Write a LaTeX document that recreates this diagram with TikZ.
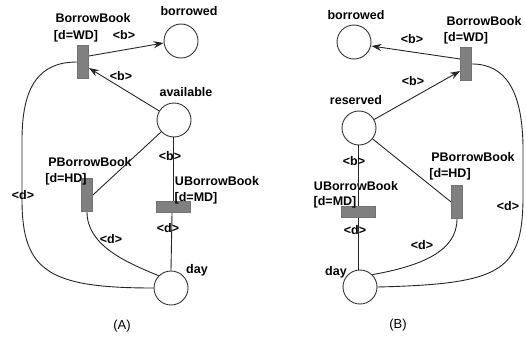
\documentclass[tikz,border=0pt]{standalone}
\usepackage{fontspec}
\setmainfont{Liberation Sans}
\usetikzlibrary{arrows.meta}
\begin{document}
\begin{tikzpicture}[x=1pt,y=-1pt,
  every node/.style={font=\fontsize{12.5}{15}\selectfont\bfseries, inner sep=0pt},
  place/.style={circle, draw=black!80, line width=0.9pt, fill=white, minimum size=34pt},
  vtrans/.style={rectangle, draw=black!55, line width=0.8pt, fill=black!50, minimum width=11pt, minimum height=33pt},
  htrans/.style={rectangle, draw=black!55, line width=0.8pt, fill=black!50, minimum width=34pt, minimum height=11pt},
  arc/.style={draw=black!85, line width=0.9pt},
  arr/.style={arc, -{Stealth[length=10pt,width=7pt]}},
  lbl/.style={anchor=center},
  captext/.style={anchor=center, font=\fontsize{13}{15}\selectfont}
]
\useasboundingbox (0,0) rectangle (526,337);

% ---------- net (A) ----------
\node[vtrans] (bbA) at (83,62) {};
\node[place]  (borA) at (181,41) {};
\node[place]  (avA) at (174,120) {};
\node[vtrans] (pbA) at (87,195) {};
\node[htrans] (ubA) at (173,207) {};
\node[place]  (dayA) at (171,288) {};

\node[lbl] (tbbA) at (93,18) {BorrowBook};
\node[lbl] (gbbA) at (76,36) {[d=WD]};
\node[lbl] (tborA) at (189,11) {borrowed};
\node[lbl] (tavA) at (186,92) {available};
\node[lbl] (tpbA) at (90,162) {PBorrowBook};
\node[lbl] (gpbA) at (66,179) {[d=HD]};
\node[lbl] (tubA) at (217,181) {UBorrowBook};
\node[lbl] (gubA) at (196,198) {[d=MD]};
\node[lbl] (tdayA) at (197,270) {day};
\node[captext] (capA) at (122,326) {(A)};

\draw[arr] (bbA.east |- 0,56) -- (borA.west |- 0,43);
\node[lbl] (wbA1) at (124,35) {<b>};
\path[arr] (avA) -- (bbA.east |- 0,68);
\node[lbl] (wbA2) at (121,76) {<b>};
\draw[arc] (avA.south -| 173,0) -- (ubA.north -| 173,0);
\node[lbl] (wbA3) at (170,156) {<b>};
\draw[arc] (avA) -- (pbA.east);
\draw[arc] (ubA.south -| 172,0) -- (dayA.north);
\node[lbl] (wdA1) at (168,228) {<d>};
\draw[arc] (pbA.south) .. controls (87,245) and (125,262) .. (dayA.north west);
\node[lbl] (wdA2) at (111,239) {<d>};
\draw[arc] (bbA.west) .. controls (40,62) and (22,85) .. (22,140)
  -- (22,200) .. controls (22,272) and (50,288) .. (dayA.west);
\node[lbl] (wdA3) at (23,195) {<d>};

% ---------- net (B) ----------
\node[place]  (borB) at (354,42) {};
\node[vtrans] (bbB) at (466,64) {};
\node[place]  (resB) at (359,128) {};
\node[htrans] (ubB) at (358,212) {};
\node[vtrans] (pbB) at (457,202) {};
\node[place]  (dayB) at (360,287) {};

\node[lbl] (tborB) at (356,15) {borrowed};
\node[lbl] (tbbB) at (484,21) {BorrowBook};
\node[lbl] (gbbB) at (466,38) {[d=WD]};
\node[lbl] (tresB) at (356,100) {reserved};
\node[lbl] (tpbB) at (473,157) {PBorrowBook};
\node[lbl] (gpbB) at (450,174) {[d=HD]};
\node[lbl] (tubB) at (356,186) {UBorrowBook};
\node[lbl] (gubB) at (335,202) {[d=MD]};
\node[lbl] (tdayB) at (336,272) {day};
\node[captext] (capB) at (398,325) {(B)};

\draw[arr] (bbB.west |- 0,59) -- (borB.east |- 0,46);
\node[lbl] (wbB1) at (412,39) {<b>};
\path[arr] (resB) -- (bbB.west |- 0,71);
\node[lbl] (wbB2) at (413,81) {<b>};
\draw[arc] (resB.south -| 358,0) -- (ubB.north -| 358,0);
\node[lbl] (wbB3) at (354,161) {<b>};
\draw[arc] (resB) -- (pbB.west);
\draw[arc] (ubB.south -| 358,0) -- (dayB.north -| 358,0);
\node[lbl] (wdB1) at (355,230) {<d>};
\draw[arc] (pbB.south) .. controls (457,252) and (420,266) .. (dayB.north east);
\node[lbl] (wdB2) at (422,245) {<d>};
\draw[arc] (bbB.east) .. controls (505,64) and (523,90) .. (523,150)
  -- (523,200) .. controls (522,272) and (500,284) .. (dayB.east);
\node[lbl] (wdB3) at (508,206) {<d>};
\end{tikzpicture}
\end{document}
